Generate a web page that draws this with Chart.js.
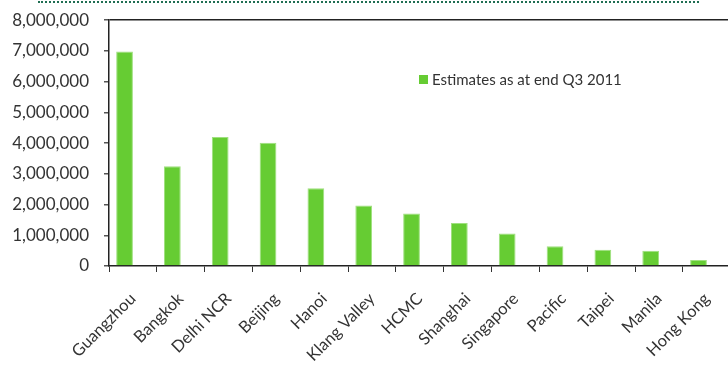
<!DOCTYPE html>
<html>
<head>
<meta charset="utf-8">
<script src="https://cdn.jsdelivr.net/npm/chart.js@4.4.0/dist/chart.umd.min.js"></script>
<style>
  html, body { margin: 0; padding: 0; background: #fff; overflow: hidden; }
  #wrap { position: relative; width: 728px; height: 367px; overflow: hidden; }
  #chart { position: absolute; left: 0; top: -5px; }
  #dots { position: absolute; left: 38px; top: 1px; width: 661px; border-top: 2px dotted #1f6e52; }
  #legend { position: absolute; left: 419px; top: 70px; font: 15px Lato, sans-serif; color: #333; display: flex; align-items: center; }
  #legend span.box { display: inline-block; width: 9px; height: 9px; background: #66cc33; margin-right: 4px; }
</style>
</head>
<body>
<div id="wrap">
  <canvas id="chart" width="738" height="372" style="width:738px;height:372px;"></canvas>
  <div id="dots"></div>
  <div id="legend"><span class="box"></span><span id="legendText"></span></div>
</div>
<script>
const cities = ["Guangzhou", "Bangkok", "Delhi NCR", "Beijing", "Hanoi", "Klang Valley", "HCMC",
  "Shanghai", "Singapore", "Pacific", "Taipei", "Manila", "Hong Kong"];
const estimates = [6980000, 3250000, 4200000, 4010000, 2530000, 1970000, 1710000,
  1400000, 1060000, 640000, 530000, 500000, 195000];
const seriesName = "Estimates as at end Q3 2011";
const yMax = 8000000;
const yStep = 1000000;

document.getElementById("legendText").textContent = seriesName;

const green = "#66cc33";

const chart = new Chart(document.getElementById("chart"), {
  type: "bar",
  data: {
    labels: cities,
    datasets: [
      {
        label: seriesName,
        data: estimates,
        backgroundColor: green,
        borderColor: "#9fe07f",
        borderWidth: { top: 1, left: 1, right: 1, bottom: 0 },
        barPercentage: 1,
        categoryPercentage: 0.7,
      },
      {
        // empty second slot, keeps the bars off-centre like the original
        label: "",
        data: cities.map(() => null),
        backgroundColor: "transparent",
        barPercentage: 1,
        categoryPercentage: 0.7,
      },
    ],
  },
  options: {
    responsive: false,
    animation: false,
    layout: { padding: { top: 16, right: 3, left: 0, bottom: 0 } },
    plugins: {
      legend: { display: false },
      tooltip: { enabled: false },
    },
    scales: {
      x: {
        grid: {
          offset: true,
          drawOnChartArea: false,
          tickLength: 6,
          tickColor: "#333",
        },
        border: { color: "#222", width: 1.5 },
        ticks: {
          color: "#333",
          font: { family: "Lato", size: 16.5 },
          minRotation: 45,
          maxRotation: 45,
          padding: 17,
          autoSkip: false,
        },
        afterFit: (scale) => { scale.height = 101; },
      },
      y: {
        min: 0,
        max: yMax,
        ticks: {
          stepSize: yStep,
          color: "#333",
          font: { family: "Lato", size: 17 },
          padding: 15,
          callback: (v) => v.toLocaleString("en-US"),
        },
        grid: {
          tickLength: 5,
          tickColor: "#555",
          color: (ctx) => (ctx.tick && ctx.tick.value === yMax ? "#222" : "transparent"),
          lineWidth: 1.5,
        },
        border: { color: "#222", width: 1.5 },
        afterFit: (scale) => { scale.width = 109; },
      },
    },
  },
});
</script>
</body>
</html>
